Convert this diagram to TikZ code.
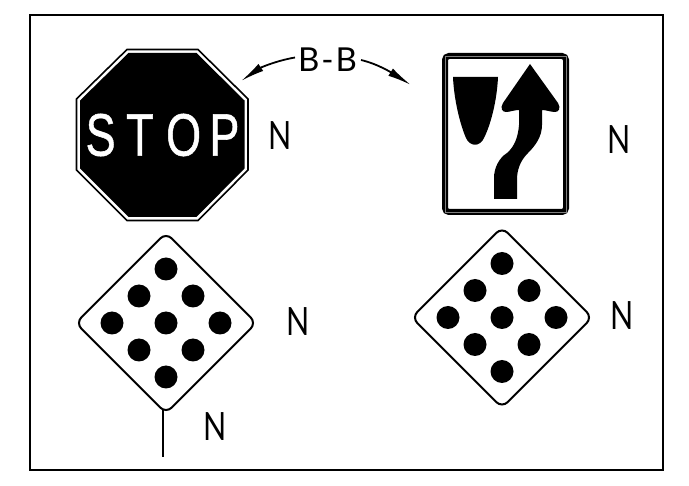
\documentclass[tikz,border=0pt]{standalone}
\usepackage{fontspec}
\setmainfont{Liberation Sans}
\newfontfamily\cadfont{Lato}
\newfontfamily\stopfont[FakeBold=1]{Liberation Sans}
\usetikzlibrary{arrows.meta}
\tikzset{
  x=1pt,y=-1pt,
  frame/.style={line width=2pt},
  nlabel/.style={font=\cadfont\fontsize{39}{39}\selectfont,inner sep=0pt,xscale=.78},
  diamondsign/.style={line width=2pt,rounded corners=8pt,fill=white},
  dot/.style={fill=black,draw=none},
  leader/.style={line width=1.8pt,-{Latex[length=24pt,width=8.5pt]}},
}
\newcommand{\dotgrid}[2]{%
  \foreach \dx/\dy in {0/-54,-27/-27,27/-27,-54/0,0/0,54/0,-27/27,27/27,0/54}
    \fill[dot] (#1+\dx,#2+\dy) circle (11.5);}
\begin{document}
\begin{tikzpicture}
\useasboundingbox (0,0) rectangle (689,486);
\fill[white] (0,0) rectangle (689,486);
\draw[frame] (30,15) rectangle (663,470);
% stop sign
\draw[line width=1.6pt] (127,49.5)--(198,49.5)--(248,99)--(248,170)--(198,220.5)--(127,220.5)--(76.5,170)--(76.5,99)--cycle;
\fill (128.5,53)--(196.5,53)--(244.5,100.5)--(244.5,168.5)--(196.5,217)--(128.5,217)--(80,168.5)--(80,100.5)--cycle;
\node[text=white,inner sep=0pt,font=\stopfont\fontsize{60}{60}\selectfont,xscale=.75] (stop) at (162.5,135) {S\kern 14pt T\kern 16.7pt O\kern 11pt P};
\node[nlabel] (n1) at (280,135.5) {N};
% leader
\node[font=\cadfont\fontsize{33}{33}\selectfont,inner sep=0pt] (bb) at (327.5,59.5) {B\kern 2pt-\kern 2pt B};
\coordinate (ltip) at (241,81);
\coordinate (rtip) at (411,85);
\coordinate (lstart) at (295,57.5);
\coordinate (rstart) at (361,60);
\draw[leader] (lstart) .. controls (275,61) and (260,68) .. (ltip);
\draw[leader] (rstart) .. controls (378,64) and (392,73) .. (rtip);
% keep-right sign
\draw[line width=6pt,rounded corners=4pt] (445,56) rectangle (566,212);
\draw[line width=.4pt,gray] (445,56) rectangle (566,212);
\fill (453,77)--(498,77) .. controls (497,100) and (491,124) .. (484,138) .. controls (480,147) and (470,147) .. (466,138) .. controls (460,124) and (454,100) .. (453,77) -- cycle;
\fill (530,64)--(558,103) .. controls (561,108) and (559,112) .. (555,112) .. controls (551,112) and (546,110) .. (542,110) -- (542,125) .. controls (542,137) and (535,146) .. (528,153) .. controls (520,161) and (517,170) .. (517,180) -- (517,199) -- (494,199) -- (494,178) .. controls (494,168) and (499,158) .. (507,153) .. controls (514,147) and (518,138) .. (519,125) -- (519,110) .. controls (514,110) and (510,112) .. (506,112) .. controls (502,112) and (500,108) .. (503,103) -- cycle;
\node[nlabel] (n2) at (619.5,140) {N};
% left diamond
\draw[line width=2pt] (163,410)--(163,457);
\draw[diamondsign] (166,232.7)--(256.3,323)--(166,413.3)--(75.7,323)--cycle;
\dotgrid{166}{323}
\node[nlabel] (n3) at (298,322) {N};
\node[nlabel] (n4) at (215,426.5) {N};
% right diamond
\draw[diamondsign] (502,227.2)--(592.3,317.5)--(502,407.8)--(411.7,317.5)--cycle;
\dotgrid{502}{317.5}
\node[nlabel] (n5) at (622.5,315.5) {N};
\end{tikzpicture}
\end{document}
